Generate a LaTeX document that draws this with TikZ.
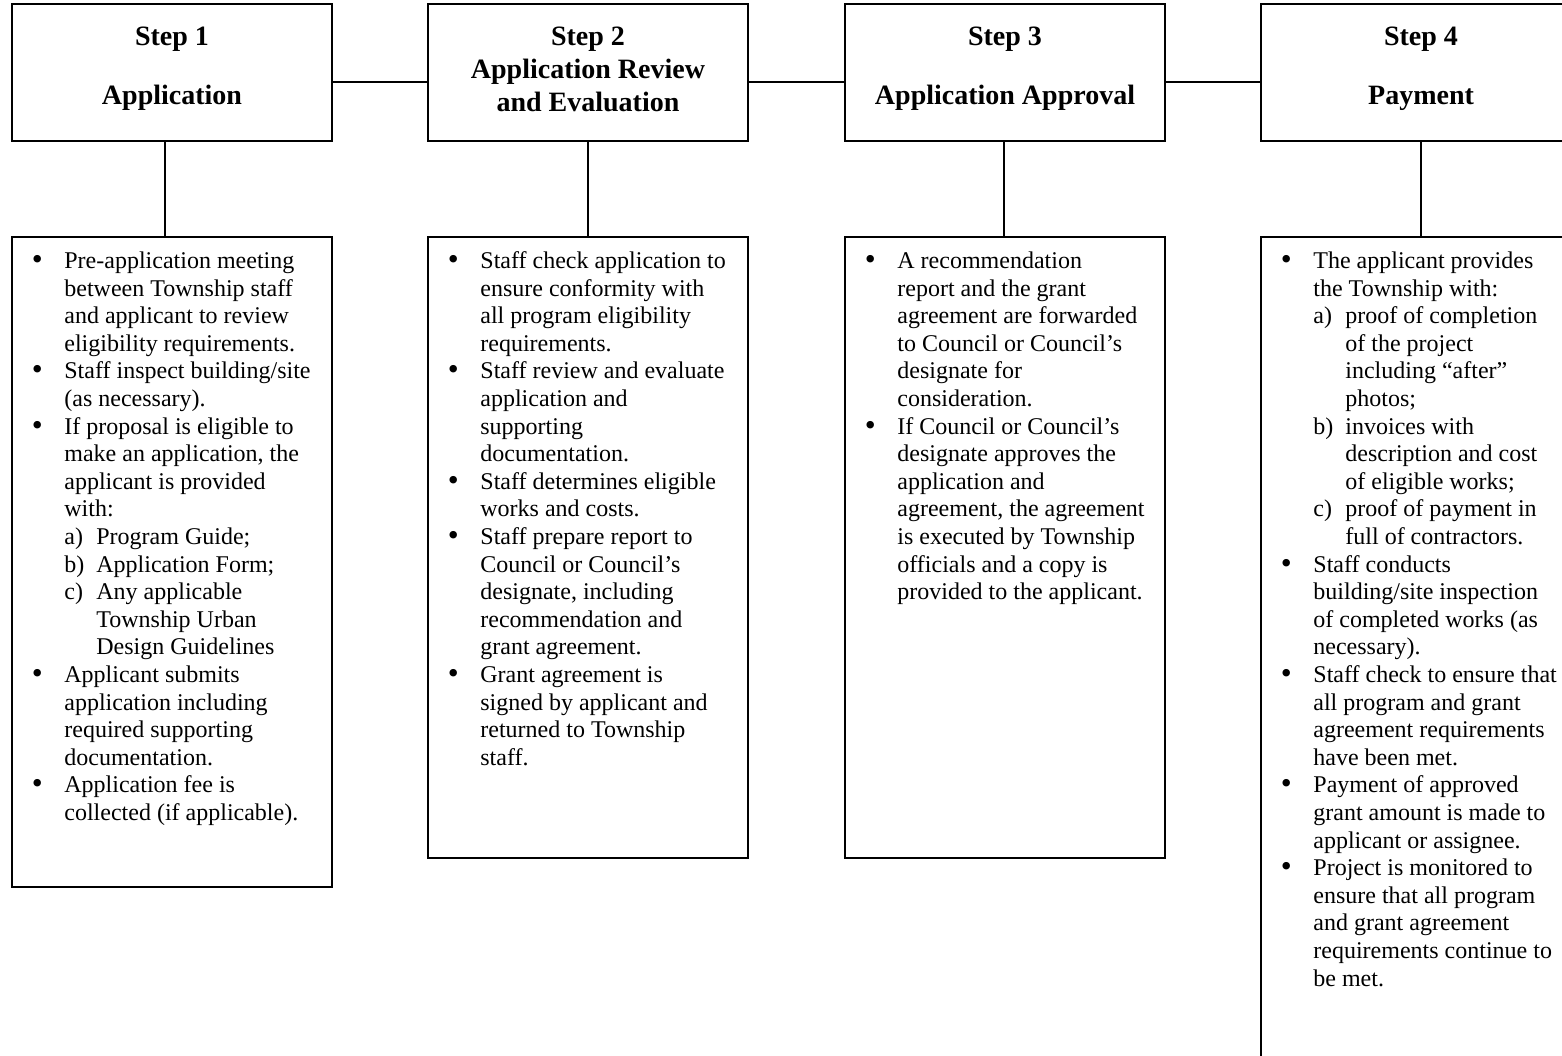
\documentclass[tikz,border=0pt]{standalone}
\usepackage{fontspec}
\setmainfont{Liberation Serif}
\newcommand\subl[1]{\makebox[16pt][l]{#1}}
\newcommand\subc{\hspace*{16pt}}
\newcommand\firststrut{\rule{0pt}{10pt}}
\newcommand\mybul{\makebox[0pt]{\raisebox{-0.5pt}{\scalebox{1.3}{\textbullet}}}}
\newenvironment{blist}{\begin{list}{\mybul}{\setlength\leftmargin{26.5pt}\setlength\labelwidth{0pt}\setlength\labelsep{13.5pt}\setlength\itemsep{0pt}\setlength\parsep{0pt}\setlength\topsep{0pt}\setlength\partopsep{0pt}\setlength\itemindent{0pt}}\raggedright}{\end{list}}
\tikzset{
  box/.style={draw, line width=1pt, rectangle, inner sep=0pt, minimum width=160pt},
  topbox/.style={box, minimum height=68.5pt},
  conn/.style={line width=0.7pt},
  hdr/.style={font=\fontsize{14}{16}\selectfont\bfseries, inner sep=0pt, anchor=base},
  body/.style={inner sep=0pt, anchor=north west, font=\fontsize{12}{13.8}\selectfont},
}
\begin{document}
\begin{tikzpicture}[x=0.5pt,y=-0.5pt]
\useasboundingbox (0,0) rectangle (1562,1055);
\clip (0,0) rectangle (1562,1055);
\fill[white] (0,0) rectangle (1562,1055);
% top boxes
\node[topbox] (t1) at (172,72.5) {};
\node[topbox] (t2) at (588,72.5) {};
\node[topbox] (t3) at (1005,72.5) {};
\node[topbox] (t4) at (1421,72.5) {};
% bottom boxes
\node[box, minimum height=325pt] (b1) at (172,562) {};
\node[box, minimum height=310.5pt] (b2) at (588,547.5) {};
\node[box, minimum height=310.5pt] (b3) at (1005,547.5) {};
\node[box, minimum height=419pt] (b4) at (1421,656) {};
% headers
\node[hdr] (h1a) at (172,45) {Step 1};
\node[hdr] (h1b) at (172,104) {Application};
\node[hdr] (h2a) at (588,45) {Step 2};
\node[hdr] (h2b) at (588,78) {Application Review};
\node[hdr] (h2c) at (588,111) {and Evaluation};
\node[hdr] (h3a) at (1005,45) {Step 3};
\node[hdr] (h3b) at (1005,104) {Application Approval};
\node[hdr] (h4a) at (1421,45) {Step 4};
\node[hdr] (h4b) at (1421,104) {Payment};
% connectors
\draw[conn] ([yshift=-4.75pt]t1.east) -- ([yshift=-4.75pt]t2.west);
\draw[conn] ([yshift=-4.75pt]t2.east) -- ([yshift=-4.75pt]t3.west);
\draw[conn] ([yshift=-4.75pt]t3.east) -- ([yshift=-4.75pt]t4.west);
\draw[conn] ([xshift=-3.5pt]t1.south) -- ([xshift=-3.5pt]b1.north);
\draw[conn] (t2.south) -- (b2.north);
\draw[conn] ([xshift=-0.5pt]t3.south) -- ([xshift=-0.5pt]b3.north);
\draw[conn] (t4.south) -- (b4.north);
% body texts
\node[body] (x1) at ([yshift=-6pt]b1.north west) {\begin{minipage}{158pt}\begin{blist}
\item\firststrut Pre-application meeting\\between Township staff\\and applicant to review\\eligibility requirements.
\item Staff inspect building/site\\(as necessary).
\item If proposal is eligible to\\make an application, the\\applicant is provided\\with:\\\subl{a)}Program Guide;\\\subl{b)}Application Form;\\\subl{c)}Any applicable\\\subc Township Urban\\\subc Design Guidelines
\item Applicant submits\\application including\\required supporting\\documentation.
\item Application fee is\\collected (if applicable).
\end{blist}\end{minipage}};
\node[body] (x2) at ([yshift=-6pt]b2.north west) {\begin{minipage}{158pt}\begin{blist}
\item\firststrut Staff check application to\\ensure conformity with\\all program eligibility\\requirements.
\item Staff review and evaluate\\application and\\supporting\\documentation.
\item Staff determines eligible\\works and costs.
\item Staff prepare report to\\Council or Council’s\\designate, including\\recommendation and\\grant agreement.
\item Grant agreement is\\signed by applicant and\\returned to Township\\staff.
\end{blist}\end{minipage}};
\node[body] (x3) at ([yshift=-6pt]b3.north west) {\begin{minipage}{158pt}\begin{blist}
\item\firststrut A recommendation\\report and the grant\\agreement are forwarded\\to Council or Council’s\\designate for\\consideration.
\item If Council or Council’s\\designate approves the\\application and\\agreement, the agreement\\is executed by Township\\officials and a copy is\\provided to the applicant.
\end{blist}\end{minipage}};
\node[body] (x4) at ([yshift=-6pt]b4.north west) {\begin{minipage}{158pt}\begin{blist}
\item\firststrut The applicant provides\\the Township with:\\\subl{a)}proof of completion\\\subc of the project\\\subc including “after”\\\subc photos;\\\subl{b)}invoices with\\\subc description and cost\\\subc of eligible works;\\\subl{c)}proof of payment in\\\subc full of contractors.
\item Staff conducts\\building/site inspection\\of completed works (as\\necessary).
\item Staff check to ensure that\\all program and grant\\agreement requirements\\have been met.
\item Payment of approved\\grant amount is made to\\applicant or assignee.
\item Project is monitored to\\ensure that all program\\and grant agreement\\requirements continue to\\be met.
\end{blist}\end{minipage}};
\end{tikzpicture}
\end{document}
